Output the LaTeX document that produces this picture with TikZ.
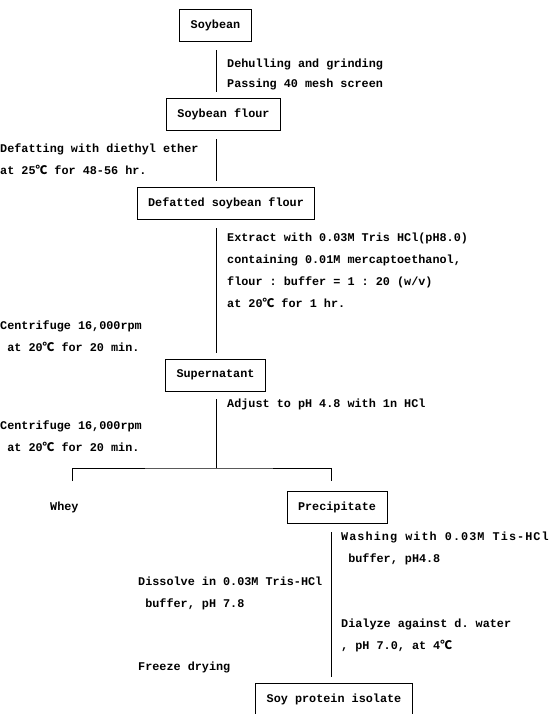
\documentclass[tikz,border=0pt]{standalone}
\usepackage{fontspec}
\setmonofont{Liberation Mono}
\newfontfamily\cjk{Noto Sans CJK KR}
\newcommand{\degc}{{\cjk ℃}}
\usepackage{tikz}

\begin{document}
\begin{tikzpicture}[x=1pt,y=-1pt,
    box/.style={draw,line width=0.8pt,inner xsep=11pt,minimum height=32pt,
        font=\ttfamily\bfseries\fontsize{11.8}{22}\selectfont},
    note/.style={anchor=west,align=left,inner sep=0pt,
        font=\ttfamily\bfseries\fontsize{11.8}{22}\selectfont},
    flow/.style={line width=0.8pt,shorten <=9pt,shorten >=6pt}]
    \useasboundingbox (0,0) rectangle (555,714);

    % main axis of the flow chart
    \coordinate (axis) at (216,0);
    \coordinate (axisb) at (331,0);

    % process steps
    \node[box] (bean) at (215.5,25) {Soybean};
    \node[box] (flour) at (223.5,114) {Soybean flour};
    \node[box] (defat) at (226,203) {Defatted soybean flour};
    \node[box] (super) at (215.5,375) {Supernatant};
    \node[box] (prec) at (337,507) {Precipitate};
    \node[box] (spi) at (334,699) {Soy protein isolate};

    % treatments
    \node[note] (dehull) at (227,74) {Dehulling and grinding\\[-2pt]Passing 40 mesh screen};
    \node[note] (defatnote) at (0,159.5) {Defatting with diethyl ether\\at 25\degc{} for 48-56 hr.};
    \node[note] (extract) at (227,270) {Extract with 0.03M Tris HCl(pH8.0)\\containing 0.01M mercaptoethanol,\\flour : buffer = 1 : 20 (w/v)\\at 20\degc{} for 1 hr.};
    \node[note] (cfa) at (0,336) {Centrifuge 16,000rpm\\~at 20\degc{} for 20 min.};
    \node[note] (adjust) at (227,404) {Adjust to pH 4.8 with 1n HCl};
    \node[note] (cfb) at (0,436) {Centrifuge 16,000rpm\\~at 20\degc{} for 20 min.};
    \node[note] (whey) at (50,507) {Whey};
    \node[note] (wash) at (341,548.5) {\addfontfeature{LetterSpace=9}Washing with 0.03M Tis-HCl\\~buffer, pH4.8};
    \node[note] (dissolve) at (138,593) {Dissolve in 0.03M Tris-HCl\\~buffer, pH 7.8};
    \node[note] (dialyze) at (341,635) {Dialyze against d. water\\, pH 7.0, at 4\degc};
    \node[note] (freeze) at (138,667) {Freeze drying};

    % connectors
    \draw[flow] (axis |- bean.south) -- (axis |- flour.north);
    \draw[flow] (axis |- flour.south) -- (axis |- defat.north);
    \draw[flow] (axis |- defat.south) -- (axis |- super.north);
    \coordinate (split) at (axis |- 0,468);
    \coordinate (wheyend) at (72,481);
    \coordinate (precend) at (axisb |- 0,481);
    \draw[line width=0.8pt,shorten <=8pt] (axis |- super.south) -- (split);
    \draw[line width=0.8pt] (wheyend) |- (split) -| (precend);
    \draw[flow] (axisb |- prec.south) -- (axisb |- spi.north);
\end{tikzpicture}
\end{document}
